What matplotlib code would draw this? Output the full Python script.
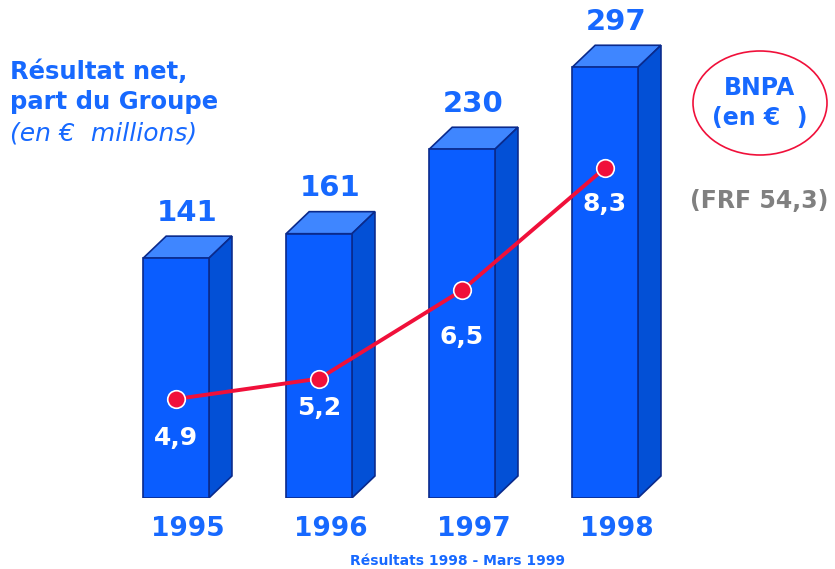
import matplotlib.pyplot as plt
from matplotlib.patches import Polygon, Ellipse

years = ['1995', '1996', '1997', '1998']
resultat = [141, 161, 230, 297]          # Résultat net, part du Groupe (EUR millions)
bnpa = [4.9, 5.2, 6.5, 8.3]              # BNPA (EUR)
bnpa_labels = ['4,9', '5,2', '6,5', '8,3']

blue_txt = '#1769ff'
front = '#0a5dff'
top_c = '#3f86ff'
side_c = '#0350d6'
edge_c = '#0a2a8c'
red = '#f0103a'

fig = plt.figure(figsize=(8.35, 5.69), dpi=100)
ax = fig.add_axes([0, 0.1248, 1, 0.8752])
ax.set_xlim(-1.231, 4.608)
y0 = -55
ax.set_ylim(y0, 352)
ax.axis('off')

x = list(range(len(years)))
w = 0.46
dx, dy = 0.161, 18  # depth of the 3d effect in data units

bars = ax.bar(x, [v - y0 for v in resultat], bottom=y0, width=w,
              color=front, edgecolor=edge_c, linewidth=1.2, zorder=3)

for xi, v in zip(x, resultat):
    l, r = xi - w / 2, xi + w / 2
    ax.add_patch(Polygon([(l, v), (l + dx, v + dy), (r + dx, v + dy), (r, v)],
                         closed=True, fc=top_c, ec=edge_c, lw=1.2, zorder=2))
    ax.add_patch(Polygon([(r, y0), (r + dx, y0 + dy), (r + dx, v + dy), (r, v)],
                         closed=True, fc=side_c, ec=edge_c, lw=1.2, zorder=2))
    ax.annotate(str(v), (xi + dx / 2, v + dy), xytext=(0, 11), textcoords='offset points',
                ha='center', va='baseline', fontsize=21, fontweight='bold', color=blue_txt)

for xi, yr in zip(x, years):
    ax.annotate(yr, (xi + dx / 2, y0), xytext=(0, -22), textcoords='offset points',
                ha='center', va='center', fontsize=19, fontweight='bold', color=blue_txt)

# BNPA line on a second scale
ax2 = ax.twinx()
ax2.set_ylim(3.444, 10.77)
ax2.axis('off')
ax2.plot(x, bnpa, color=red, lw=2.8, zorder=4)
ax2.scatter(x, bnpa, s=160, color=red, edgecolor='white', linewidth=1.2, zorder=5)
offsets = [-28, -21, -34, -26]
for xi, v, lab, off in zip(x, bnpa, bnpa_labels, offsets):
    ax2.annotate(lab, (xi, v), xytext=(0, off), textcoords='offset points',
                 ha='center', va='center', fontsize=18, fontweight='bold', color='white')

# texts
fig.text(10, 569 - 72, 'Résultat net,', transform=None, fontsize=17.5, fontweight='bold',
         color=blue_txt, va='center', ha='left')
fig.text(10, 569 - 102, 'part du Groupe', transform=None, fontsize=17.5, fontweight='bold',
         color=blue_txt, va='center', ha='left')
fig.text(10, 569 - 133, '(en €  millions)', transform=None, fontsize=18, fontstyle='italic',
         color=blue_txt, va='center', ha='left')

ell = Ellipse((760 / 835, 1 - 103 / 569), 134 / 835, 104 / 569, transform=fig.transFigure,
              fc='white', ec=red, lw=1.2)
fig.add_artist(ell)
fig.text(760 / 835, 1 - 88 / 569, 'BNPA', fontsize=17, fontweight='bold', color=blue_txt,
         ha='center', va='center')
fig.text(760 / 835, 1 - 118 / 569, '(en €  )', fontsize=17, fontweight='bold', color=blue_txt,
         ha='center', va='center')
fig.text(759 / 835, 1 - 201 / 569, '(FRF 54,3)', fontsize=17, fontweight='bold', color='#808080',
         ha='center', va='center')
fig.text(457 / 835, 1 - 561 / 569, 'Résultats 1998 - Mars 1999', fontsize=10, fontweight='bold',
         color=blue_txt, ha='center', va='center')

fig.savefig('out.png', dpi=100, facecolor='white')
